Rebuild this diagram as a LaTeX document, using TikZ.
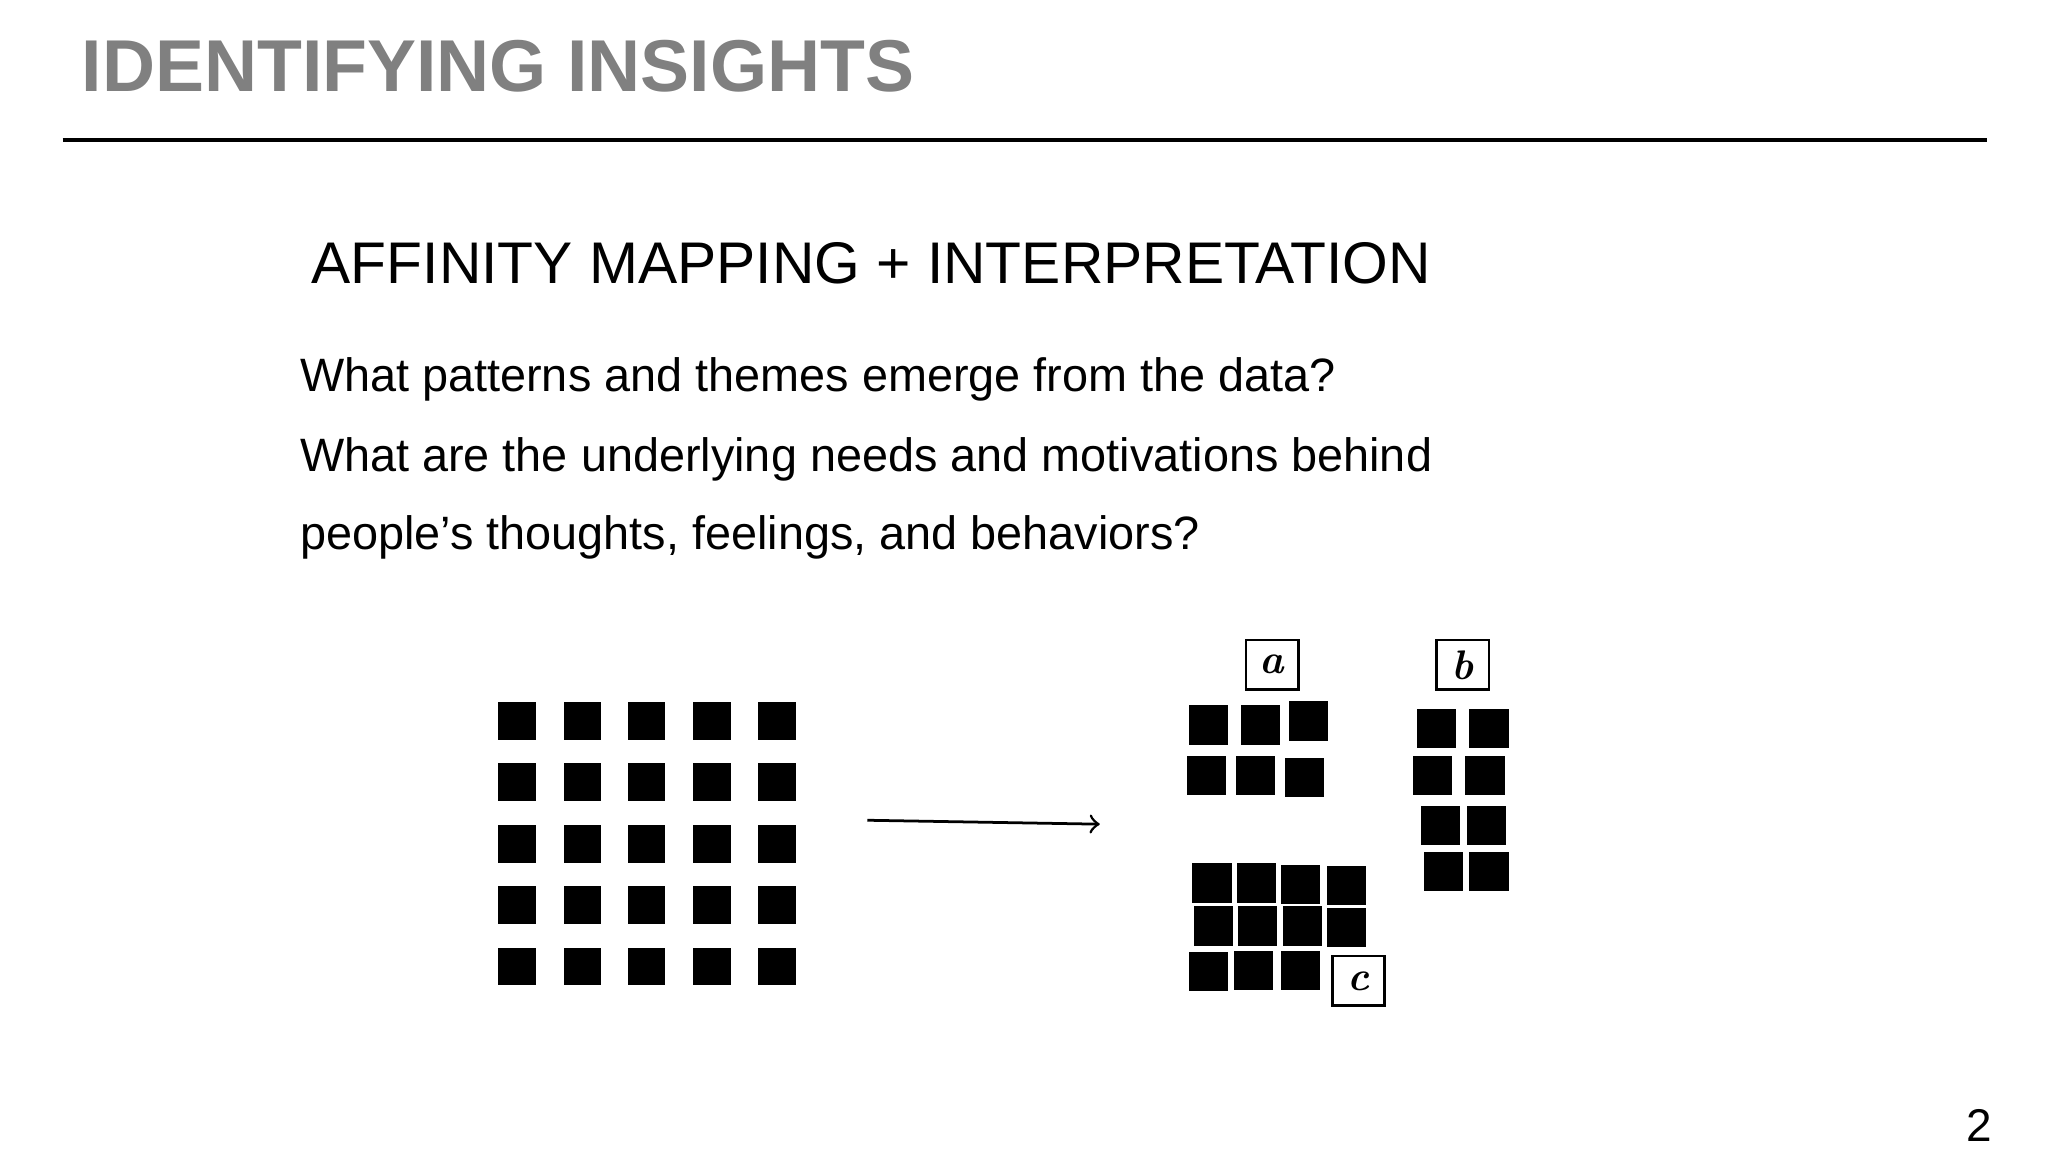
\documentclass[tikz,border=0pt]{standalone}
\usepackage{fontspec}
\setmainfont{Liberation Sans}
\newfontfamily\lmfont{Latin Modern Roman}
\begin{document}
\begin{tikzpicture}[x=0.1mm,y=-0.1mm]
\tikzset{sq/.style={fill=black,minimum size=2.9mm,inner sep=0pt},
 sqs/.style={sq,minimum size=3.0mm},
 lab/.style={draw,line width=0.6pt,minimum width=4.0mm,minimum height=3.8mm,inner sep=0pt,font=\lmfont\small\bfseries\itshape},
 txt/.style={anchor=base west,inner sep=0pt}}
\useasboundingbox (0,0) rectangle (1568,882);
\node[txt,font=\fontsize{16}{18}\selectfont\bfseries,text=black!50] (title) at (62,70) {IDENTIFYING INSIGHTS};
\coordinate (l1) at (48,107); \coordinate (l2) at (1521,107);
\draw[line width=0.9pt] (l1) -- (l2);
\node[txt,font=\fontsize{12.8}{15}\selectfont] (sub) at (238,217) {AFFINITY MAPPING + INTERPRETATION};
\node[txt,font=\fontsize{10.2}{12}\selectfont] (q1) at (229,300) {What patterns and themes emerge from the data?};
\node[txt,font=\fontsize{10.2}{12}\selectfont] (q2) at (229,361) {What are the underlying needs and motivations behind};
\node[txt,font=\fontsize{10.2}{12}\selectfont] (q3) at (229,421) {people’s thoughts, feelings, and behaviors?};
\node[txt,font=\fontsize{10}{12}\selectfont] (pg) at (1505,874) {2};
\foreach \x [count=\i] in {396,446,495,545,595}
 \foreach \y [count=\j] in {552,599,646,693,740}
  \node[sq] (g\i\j) at (\x,\y) {};
\coordinate (as) at (664,628); \coordinate (ae) at (842,631);
\draw[->,line width=0.6pt] (as) -- (ae);
% cluster a
\foreach \p [count=\i] in {(925,555),(965,555),(1002,552),(924,594),(961,594),(999,595)}
 \node[sqs] (a\i) at \p {};
\node[lab] (la) at (974,509) {a};
% cluster b
\foreach \p [count=\i] in {(1100,558),(1140,558),(1097,594),(1137,594),(1103,632),(1138,632),(1105,667),(1140,667)}
 \node[sqs] (b\i) at \p {};
\node[lab] (lb) at (1120,509) {b};
% cluster c
\foreach \p [count=\i] in {(928,676),(962,676),(996,677),(1031,678),(929,709),(963,709),(997,709),(1031,710),(925,744),(960,743),(996,743)}
 \node[sqs] (c\i) at \p {};
\node[lab] (lc) at (1040,751) {c};
\end{tikzpicture}
\end{document}
